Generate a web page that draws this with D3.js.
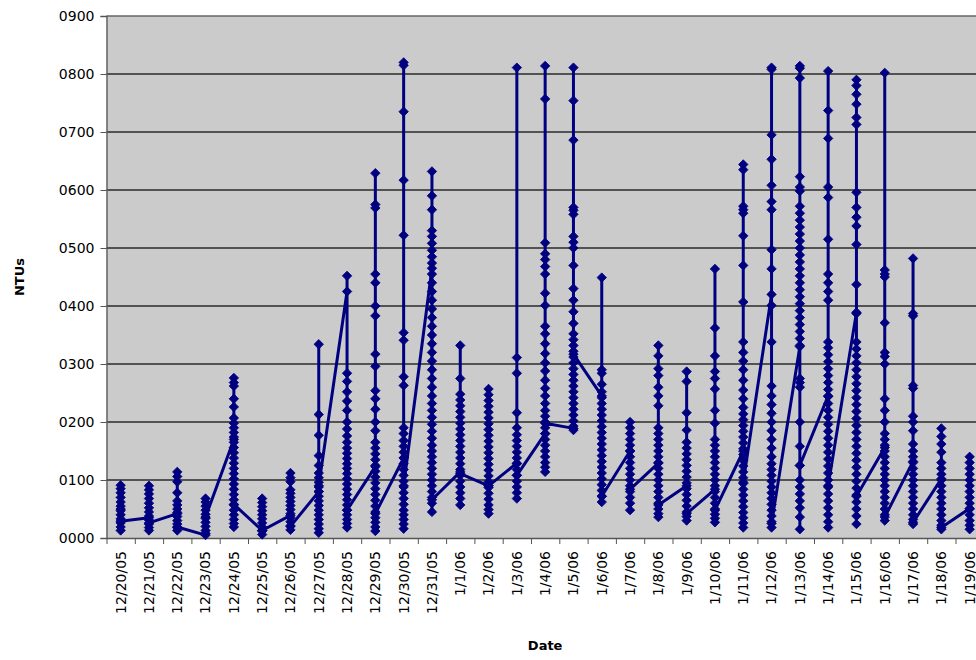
<!DOCTYPE html>
<html>
<head>
<meta charset="utf-8">
<script src="https://cdn.jsdelivr.net/npm/d3@7"></script>
<style>
  body { margin: 0; background: #fff; }
  svg text { font-family: Verdana, "DejaVu Sans", sans-serif; fill: #000; }
</style>
</head>
<body>
<div class="chart"></div>
<script>
const w = 976;
const h = 660;
const margin = {top: 16, left: 106.5, bottom: 538, right: 983.8};

const days = ["12/20/05","12/21/05","12/22/05","12/23/05","12/24/05","12/25/05","12/26/05",
  "12/27/05","12/28/05","12/29/05","12/30/05","12/31/05","1/1/06","1/2/06","1/3/06","1/4/06",
  "1/5/06","1/6/06","1/7/06","1/8/06","1/9/06","1/10/06","1/11/06","1/12/06","1/13/06",
  "1/14/06","1/15/06","1/16/06","1/17/06","1/18/06","1/19/06"];

const yTicks = [0, 0.1, 0.2, 0.3, 0.4, 0.5, 0.6, 0.7, 0.8, 0.9];
const yTickLabels = ["0000","0100","0200","0300","0400","0500","0600","0700","0800","0900"];

// turbidity readings per day, in the order they were logged
const readings = [
  [0.05,0.091,0.085,0.078,0.07,0.062,0.055,0.047,0.04,0.033,0.026,0.019,0.013,0.029],
  [0.035,0.09,0.083,0.076,0.068,0.06,0.052,0.045,0.038,0.031,0.024,0.018,0.013,0.026],
  [0.042,0.114,0.106,0.097,0.078,0.064,0.057,0.05,0.044,0.037,0.03,0.024,0.018,0.013,0.019],
  [0.005,0.068,0.062,0.055,0.048,0.041,0.034,0.027,0.02,0.013,0.008,0.036],
  [0.17,0.276,0.268,0.262,0.24,0.226,0.207,0.198,0.19,0.182,0.174,0.165,0.156,0.147,0.138,0.129,0.12,0.111,0.102,0.093,0.084,0.075,0.066,0.057,0.048,0.04,0.032,0.025,0.019,0.058],
  [0.013,0.068,0.061,0.054,0.047,0.04,0.033,0.026,0.019,0.012,0.006,0.013],
  [0.039,0.112,0.104,0.097,0.083,0.077,0.07,0.063,0.056,0.049,0.042,0.035,0.028,0.021,0.014,0.02],
  [0.08,0.334,0.213,0.177,0.142,0.125,0.112,0.104,0.096,0.088,0.08,0.072,0.064,0.056,0.048,0.04,0.032,0.024,0.016,0.009,0.09],
  [0.425,0.452,0.284,0.27,0.252,0.236,0.22,0.2,0.188,0.176,0.165,0.155,0.146,0.137,0.128,0.12,0.111,0.102,0.093,0.084,0.075,0.066,0.057,0.048,0.04,0.032,0.025,0.018,0.048],
  [0.123,0.629,0.575,0.569,0.455,0.44,0.4,0.383,0.317,0.296,0.254,0.24,0.222,0.2,0.185,0.165,0.155,0.145,0.135,0.125,0.115,0.105,0.095,0.085,0.075,0.065,0.055,0.045,0.035,0.027,0.019,0.012,0.042],
  [0.138,0.82,0.815,0.735,0.617,0.522,0.354,0.341,0.278,0.263,0.19,0.18,0.168,0.158,0.148,0.138,0.128,0.118,0.108,0.098,0.088,0.078,0.068,0.058,0.048,0.04,0.032,0.024,0.016,0.09],
  [0.465,0.632,0.59,0.566,0.53,0.52,0.508,0.496,0.485,0.474,0.455,0.44,0.425,0.41,0.395,0.38,0.365,0.35,0.335,0.32,0.305,0.29,0.275,0.26,0.245,0.232,0.22,0.208,0.196,0.184,0.172,0.16,0.15,0.14,0.13,0.12,0.11,0.1,0.09,0.08,0.07,0.06,0.045,0.066],
  [0.114,0.332,0.275,0.248,0.238,0.228,0.218,0.208,0.198,0.188,0.178,0.168,0.158,0.148,0.138,0.128,0.118,0.108,0.098,0.088,0.078,0.068,0.057,0.111],
  [0.09,0.257,0.247,0.237,0.227,0.217,0.207,0.197,0.187,0.177,0.167,0.157,0.147,0.137,0.127,0.117,0.107,0.097,0.087,0.077,0.067,0.057,0.049,0.042,0.09],
  [0.129,0.811,0.311,0.284,0.216,0.19,0.178,0.168,0.158,0.148,0.138,0.128,0.118,0.108,0.098,0.088,0.078,0.068,0.108],
  [0.18,0.814,0.757,0.509,0.49,0.48,0.468,0.455,0.422,0.401,0.365,0.352,0.335,0.318,0.302,0.288,0.272,0.258,0.245,0.232,0.22,0.21,0.2,0.19,0.18,0.17,0.16,0.15,0.14,0.13,0.122,0.114,0.198],
  [0.189,0.811,0.754,0.686,0.57,0.565,0.558,0.52,0.51,0.5,0.47,0.43,0.41,0.39,0.37,0.352,0.342,0.332,0.322,0.312,0.302,0.292,0.282,0.272,0.262,0.252,0.242,0.232,0.222,0.212,0.202,0.193,0.186,0.317],
  [0.245,0.449,0.29,0.284,0.265,0.252,0.242,0.232,0.222,0.212,0.202,0.192,0.182,0.172,0.162,0.152,0.142,0.132,0.122,0.112,0.102,0.092,0.082,0.072,0.062,0.072],
  [0.15,0.2,0.19,0.18,0.17,0.16,0.15,0.14,0.13,0.12,0.11,0.1,0.09,0.08,0.07,0.06,0.048,0.084],
  [0.129,0.332,0.314,0.292,0.28,0.26,0.245,0.228,0.19,0.18,0.17,0.16,0.15,0.14,0.13,0.12,0.11,0.1,0.09,0.08,0.07,0.06,0.05,0.042,0.036,0.057],
  [0.09,0.287,0.27,0.216,0.186,0.165,0.155,0.145,0.135,0.125,0.115,0.105,0.095,0.085,0.075,0.065,0.055,0.045,0.037,0.03,0.042],
  [0.084,0.464,0.362,0.314,0.287,0.275,0.257,0.22,0.198,0.17,0.16,0.15,0.14,0.13,0.12,0.11,0.1,0.09,0.08,0.07,0.06,0.05,0.041,0.034,0.027,0.048],
  [0.15,0.644,0.635,0.572,0.566,0.56,0.521,0.47,0.407,0.338,0.32,0.305,0.29,0.272,0.255,0.24,0.225,0.214,0.204,0.194,0.184,0.174,0.164,0.154,0.144,0.134,0.124,0.114,0.104,0.094,0.084,0.074,0.064,0.054,0.044,0.035,0.026,0.018,0.096],
  [0.42,0.811,0.808,0.695,0.653,0.608,0.58,0.566,0.497,0.464,0.401,0.338,0.262,0.245,0.23,0.215,0.2,0.185,0.17,0.155,0.14,0.128,0.118,0.108,0.098,0.088,0.078,0.068,0.058,0.048,0.038,0.028,0.018,0.025],
  [0.33,0.814,0.81,0.793,0.623,0.605,0.598,0.572,0.56,0.548,0.536,0.524,0.512,0.5,0.488,0.476,0.464,0.452,0.44,0.428,0.416,0.404,0.392,0.38,0.368,0.356,0.344,0.332,0.275,0.268,0.26,0.2,0.158,0.125,0.1,0.088,0.076,0.064,0.052,0.036,0.015,0.125],
  [0.245,0.805,0.737,0.689,0.605,0.587,0.515,0.455,0.44,0.425,0.41,0.338,0.328,0.316,0.304,0.292,0.28,0.268,0.256,0.244,0.232,0.22,0.208,0.196,0.184,0.172,0.16,0.148,0.136,0.124,0.112,0.1,0.088,0.076,0.064,0.052,0.04,0.028,0.018,0.09],
  [0.389,0.79,0.78,0.765,0.748,0.725,0.713,0.596,0.57,0.553,0.538,0.506,0.437,0.387,0.338,0.326,0.314,0.302,0.29,0.278,0.266,0.254,0.242,0.23,0.218,0.206,0.194,0.182,0.17,0.158,0.146,0.134,0.122,0.11,0.098,0.086,0.074,0.062,0.05,0.038,0.024,0.072],
  [0.156,0.802,0.462,0.455,0.45,0.371,0.32,0.313,0.3,0.24,0.22,0.2,0.18,0.17,0.16,0.15,0.14,0.13,0.12,0.11,0.1,0.09,0.08,0.07,0.06,0.05,0.04,0.03,0.036],
  [0.132,0.482,0.387,0.383,0.263,0.258,0.21,0.2,0.185,0.162,0.15,0.14,0.13,0.12,0.11,0.1,0.09,0.08,0.07,0.06,0.05,0.04,0.032,0.024,0.027],
  [0.102,0.189,0.175,0.162,0.148,0.13,0.12,0.11,0.1,0.09,0.08,0.07,0.06,0.05,0.04,0.03,0.022,0.015,0.018],
  [0.051,0.14,0.13,0.12,0.11,0.1,0.09,0.08,0.07,0.06,0.05,0.04,0.03,0.022,0.015]
];

// flatten into one series, every reading sits on its day
const points = [];
readings.forEach((vals, i) => vals.forEach(v => points.push({day: days[i], v: v})));

const svg = d3.select(".chart").append("svg").attr("width", w).attr("height", h);

const xScale = d3.scaleBand().domain(days).range([margin.left, margin.right]).padding(0);
const yScale = d3.scaleLinear().domain([0, 0.9]).range([margin.bottom, margin.top]);
const cx = d => xScale(d.day) + xScale.bandwidth() / 2;

// plot area
svg.append("rect")
  .attr("x", margin.left).attr("y", margin.top)
  .attr("width", margin.right - margin.left).attr("height", margin.bottom - margin.top)
  .attr("fill", "#cbcbcb");

// gridlines
svg.append("g")
  .selectAll("line")
  .data(yTicks.slice(1))
  .enter().append("line")
  .attr("x1", margin.left).attr("x2", margin.right)
  .attr("y1", d => yScale(d)).attr("y2", d => yScale(d))
  .attr("stroke", d => d === 0.9 ? "#666" : "#2a2a2a")
  .attr("stroke-width", 1.4);

// y axis
const yAxis = d3.axisLeft(yScale).tickValues(yTicks).tickSize(6).tickPadding(6)
  .tickFormat((d, i) => yTickLabels[i]);
svg.append("g")
  .attr("transform", "translate(" + margin.left + ",0)")
  .call(yAxis)
  .call(g => g.select(".domain").attr("stroke", "#555").attr("stroke-width", 1.3))
  .call(g => g.selectAll(".tick line").attr("stroke", "#555"))
  .call(g => g.selectAll("text").style("font-size", "14px").attr("fill", "#111"));

// x axis: ticks between the day bands
const xAxis = d3.axisBottom(xScale).tickSize(0).tickPadding(0);
const gx = svg.append("g")
  .attr("transform", "translate(0," + margin.bottom + ")")
  .call(xAxis)
  .call(g => g.select(".domain").attr("stroke", "#555").attr("stroke-width", 1.3));
gx.selectAll(".tick text")
  .style("font-size", "14px")
  .attr("fill", "#111")
  .attr("text-anchor", "end")
  .attr("dy", "0.35em")
  .attr("transform", "translate(0,13) rotate(-90)");
gx.selectAll(".boundary")
  .data(days)
  .enter().append("line")
  .attr("x1", d => xScale(d) + 0.5).attr("x2", d => xScale(d) + 0.5)
  .attr("y1", 0).attr("y2", 6)
  .attr("stroke", "#555");

// series line
const line = d3.line().x(cx).y(d => yScale(d.v));
svg.append("path")
  .datum(points)
  .attr("fill", "none")
  .attr("stroke", "#000080")
  .attr("stroke-width", 3)
  .attr("stroke-linejoin", "round")
  .attr("d", line);

// diamond markers
svg.append("g")
  .selectAll("path")
  .data(points)
  .enter().append("path")
  .attr("d", d3.symbol(d3.symbolSquare, 44))
  .attr("transform", d => "translate(" + cx(d) + "," + yScale(d.v) + ") rotate(45)")
  .attr("fill", "#000080")
  .attr("stroke", "#000080")
  .attr("stroke-width", 0.8);

// axis titles
svg.append("text")
  .attr("x", (margin.left + margin.right) / 2)
  .attr("y", 650)
  .attr("text-anchor", "middle")
  .style("font-size", "13px")
  .style("font-weight", "bold")
  .text("Date");

svg.append("text")
  .attr("transform", "translate(24," + (margin.top + margin.bottom) / 2 + ") rotate(-90)")
  .attr("text-anchor", "middle")
  .style("font-size", "13px")
  .style("font-weight", "bold")
  .text("NTUs");
</script>
</body>
</html>
